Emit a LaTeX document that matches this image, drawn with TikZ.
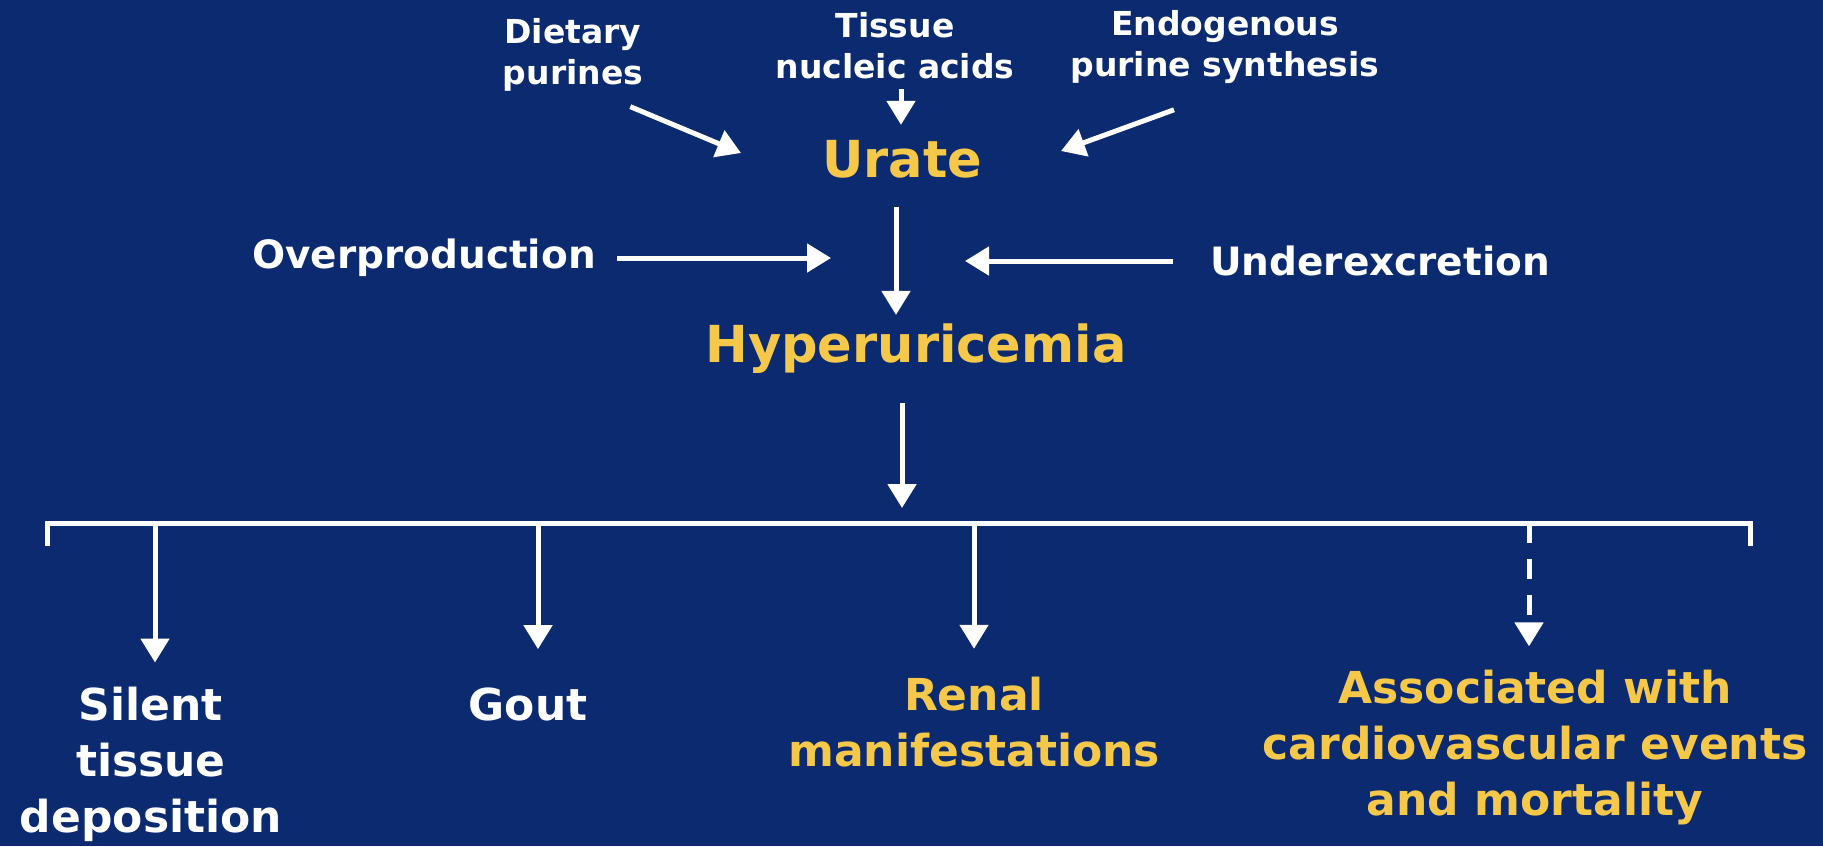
\documentclass[tikz,border=0pt]{standalone}
\usepackage{fontspec}
\setmainfont{DejaVu Sans}
\usetikzlibrary{arrows.meta, positioning}
\definecolor{navy}{HTML}{0B2A6F}
\definecolor{gold}{HTML}{F5C84A}

\begin{document}
\begin{tikzpicture}[x=1pt, y=-1pt,
    src/.style={text=white, font=\bfseries\fontsize{33}{41}\selectfont, align=center, inner sep=2pt},
    side/.style={text=white, font=\bfseries\fontsize{39}{46}\selectfont, inner sep=2pt},
    key/.style={text=gold, font=\bfseries\fontsize{51}{58}\selectfont, inner sep=2pt},
    outcome/.style={font=\bfseries\fontsize{44}{56}\selectfont, align=center, inner sep=2pt},
    arrow/.style={-{Triangle[width=28pt, length=24pt]}, line width=5pt, white}
]
\fill[navy] (0,0) rectangle (1823,846);

% Nodes using absolute positioning
\node[src] (dietary) at (573, 55) {Dietary\\purines};
\node[src] (tissue) at (895, 46) {Tissue\\nucleic acids};
\node[src] (endog) at (1225, 47) {Endogenous\\purine synthesis};
\node[key] (urate) at (902, 159) {Urate};
\node[side] (over) at (424, 258) {Overproduction};
\node[side] (under) at (1380, 261) {Underexcretion};
\node[key] (hyper) at (916, 349) {Hyperuricemia};
\node[outcome, text=white] (silent) at (151, 764) {Silent\\tissue\\deposition};
\node[outcome, text=white] (gout) at (528, 704) {Gout};
\node[outcome, text=gold] (renal) at (974, 722) {Renal\\manifestations};
\node[outcome, text=gold] (assoc) at (1535, 748) {Associated with\\cardiovascular events\\and mortality};

% Arrow ends and the branch bar
\coordinate (dietaryTip) at (741, 153);
\coordinate (endogTip) at (1061, 151);
\coordinate (overTip) at (831, 260);
\coordinate (underTip) at (965, 258);
\coordinate (hub) at (902, 523);
\coordinate (barL) at (47, 523);
\coordinate (barR) at (1750, 523);
\coordinate (b1) at (155, 523);
\coordinate (b2) at (538, 523);
\coordinate (b3) at (974, 523);
\coordinate (b4) at (1529, 523);

% Arrows
\draw[arrow] ([shift={(-15,13)}]dietary.south east) -- (dietaryTip);
\draw[arrow, shorten <=8pt, shorten >=13pt] ([xshift=6pt]tissue.south) -- ([xshift=6pt]tissue.south |- urate.north);
\draw[arrow] ([shift={(-51,24)}]endog.south) -- (endogTip);
\draw[arrow, shorten <=27pt, shorten >=7pt] ([xshift=-6pt]urate.south) -- ([xshift=-6pt]urate.south |- hyper.north);
\draw[arrow, shorten <=19pt] (over.east) -- (over.east -| overTip);
\draw[arrow, shorten <=35pt] (under.west) -- (under.west -| underTip);
\draw[arrow, shorten <=27pt, shorten >=15pt] (hyper.south -| hub) -- (hub);

\draw[white, line width=5pt] ([yshift=-23pt]barL) -- (barL) -- (barR) -- ([yshift=-23pt]barR);

\draw[arrow, shorten >=22pt] (b1) -- (b1 |- silent.north);
\draw[arrow, shorten >=36pt] (b2) -- (b2 |- gout.north);
\draw[arrow, shorten >=26pt] (b3) -- (b3 |- renal.north);
\draw[arrow, dash pattern=on 20pt off 16pt, shorten >=22pt] (b4) -- (b4 |- assoc.north);

\end{tikzpicture}
\end{document}
